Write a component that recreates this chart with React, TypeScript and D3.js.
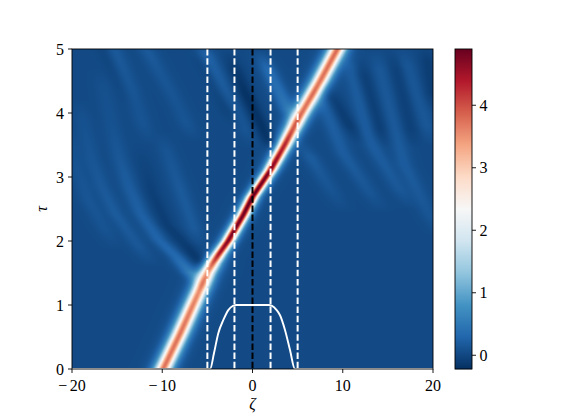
import React, { useMemo } from "react";
import * as d3 from "d3";

const width = 581;
const height = 415;
const margin = { left: 72, right: 433, top: 49, bottom: 369 };
const serif = "'Liberation Serif', 'DejaVu Serif', serif";

const xTicks = [-20, -10, 0, 10, 20];
const yTicks = [0, 1, 2, 3, 4, 5];
const barTicks = [0, 1, 2, 3, 4];
const barDomain = [-0.22, 4.9];
const baseline = 0.03;

// main soliton ridge
const ridgeTau = [0, 0.56, 1, 1.25, 1.5, 1.65, 1.8, 2, 2.17, 2.4, 2.69, 3.11, 3.5, 3.89, 4.5, 5];
const ridgeZeta = [-9.9, -8, -6.6, -5.8, -5, -4.4, -3.7, -2.7, -2, -1.05, 0, 2, 3.55, 5, 7.5, 9.4];
const ridgeAmp = [3.7, 3.7, 3.6, 3.5, 3.5, 3.9, 4.4, 4.7, 4.75, 4.8, 4.9, 4.7, 4.3, 3.7, 3.7, 3.75];
const ridgeWidth = [0.84, 0.84, 0.84, 0.84, 0.84, 0.76, 0.68, 0.63, 0.62, 0.61, 0.6, 0.63, 0.7, 0.82, 0.84, 0.84];

// faint ripples: [zeta, tau, amplitude], bottom to top
const ripplesLeft = [
  [[-6.9, 1.5, 0.45], [-8.4, 1.75, 0.3], [-10.4, 2.02, 0.24], [-12.4, 2.43, 0.2], [-13.7, 2.85, 0.17], [-14.8, 3.32, 0.12], [-15.6, 3.8, 0.07], [-16.5, 4.4, 0.05]],
  [[-5.8, 1.68, -0.2], [-7.5, 1.95, -0.14], [-9.5, 2.25, -0.12], [-11.1, 2.75, -0.1], [-12, 3.2, -0.05]],
  [[-6.5, 2.2, 0.14], [-8, 2.8, 0.14], [-9.5, 3.4, 0.09]],
  [[-12.6, 1.91, 0.12], [-15.2, 2.43, 0.15], [-16.7, 2.85, 0.13], [-17.8, 3.27, 0.1], [-18.8, 3.9, 0.06]],
  [[-16.3, 2.17, 0.08], [-18.2, 2.64, 0.1], [-19.3, 3.06, 0.08], [-20, 3.5, 0.05]],
  [[-12.05, 3.8, 0.08], [-13.5, 4.37, 0.13], [-15.2, 4.95, 0.15]],
  [[-7.45, 3.86, 0.1], [-9.3, 4.37, 0.16], [-11.5, 4.95, 0.22]],
  [[-0.83, 3.75, 0.1], [-3.05, 4.33, 0.2], [-5.07, 4.9, 0.24]],
  [[-2.5, 4.02, -0.12], [-3.97, 4.43, -0.1], [-5.26, 4.74, -0.08]],
  [[-8.5, 4.1, -0.05], [-10.2, 4.6, -0.08], [-11.6, 5, -0.08]],
  [[-13.6, 4.2, -0.04], [-15, 4.6, -0.06], [-16.5, 5, -0.06]],
];
const ripplesMiddle = [
  [[1.7, 3.6, -0.22], [-0.83, 4.32, -0.22], [-1.9, 4.69, -0.15]],
  [[3.9, 4.06, 0.4], [1.7, 4.69, 0.3]],
];
const ripplesRight = [
  [[8.9, 2.75, 0.08], [6.4, 3.31, 0.16]],
  [[13, 2.75, 0.1], [10.06, 3.37, 0.17], [7.9, 4.12, 0.2]],
  [[16.3, 2.8, 0.12], [13.6, 3.42, 0.17], [12.8, 3.65, 0.18], [10.8, 4.74, 0.16]],
  [[19.7, 2.38, 0.1], [16.8, 3.2, 0.16], [15.6, 3.86, 0.14], [14.1, 4.69, 0.12]],
  [[19.3, 3.8, 0.12], [17.1, 4.74, 0.12]],
  [[10.8, 3.8, -0.14], [8.9, 4.22, -0.12]],
  [[14.1, 3.75, -0.12], [12.3, 4.58, -0.12]],
  [[17.5, 3.75, -0.1], [16, 4.69, -0.1]],
  [[19.9, 4.3, -0.12], [19.4, 4.8, -0.12]],
];

// white overlay profile
const profileZeta = [-20, -4.7, -4.27, -3.79, -3.23, -2.68, -2.12, -1.8, 0, 1.8, 2.12, 2.68, 3.05, 3.6, 4.15, 4.7, 20];
const profileTau = [0, 0, 0.245, 0.56, 0.766, 0.92, 0.99, 1, 1, 1, 0.99, 0.92, 0.84, 0.61, 0.3, 0, 0];

const dashLines = [
  { zeta: -5, color: "white" },
  { zeta: -2, color: "white" },
  { zeta: 0, color: "black" },
  { zeta: 2, color: "white" },
  { zeta: 5, color: "white" },
];

const x = d3.scaleLinear().domain([-20, 20]).range([margin.left, margin.right]);
const y = d3.scaleLinear().domain([0, 5]).range([margin.bottom, margin.top]);
const cbar = d3.scaleLinear().domain(barDomain).range([margin.bottom, margin.top]);
const rdbu = d3.piecewise(d3.interpolateRgb, [...d3.schemeRdBu[11]].reverse());
const color = d3.scaleSequential(rdbu).domain(barDomain);

function buildHeatmap() {
  const w = margin.right - margin.left;
  const h = margin.bottom - margin.top;
  const canvas = document.createElement("canvas");
  canvas.width = w;
  canvas.height = h;
  const ctx = canvas.getContext("2d");
  if (!ctx) return "";
  const img = ctx.createImageData(w, h);

  const rz = d3.scaleLinear().domain(ridgeTau).range(ridgeZeta);
  const ra = d3.scaleLinear().domain(ridgeTau).range(ridgeAmp);
  const rw = d3.scaleLinear().domain(ridgeTau).range(ridgeWidth);

  const ripples = [...ripplesLeft, ...ripplesMiddle, ...ripplesRight].map((pts) => {
    const taus = pts.map((p) => p[1]);
    const t0 = taus[0];
    const t1 = taus[taus.length - 1];
    return {
      zeta: d3.scaleLinear().domain(taus).range(pts.map((p) => p[0])),
      amp: d3
        .scaleLinear()
        .domain([t0 - 0.3, ...taus, t1 + 0.3])
        .range([0, ...pts.map((p) => p[2]), 0])
        .clamp(true),
    };
  });

  for (let j = 0; j < h; j++) {
    const tau = y.invert(margin.top + j + 0.5);
    const c = rz(tau);
    const a = ra(tau);
    const s = rw(tau);
    for (let i = 0; i < w; i++) {
      const z = x.invert(margin.left + i + 0.5);
      const ch = Math.cosh((z - c) / s);
      let v = baseline + a / (ch * ch);
      for (const r of ripples) {
        const amp = r.amp(tau);
        if (amp === 0) continue;
        const d = (z - r.zeta(tau)) / 0.68;
        v += amp * Math.exp(-0.5 * d * d);
      }
      const col = d3.rgb(color(v));
      const k = (j * w + i) * 4;
      img.data[k] = col.r;
      img.data[k + 1] = col.g;
      img.data[k + 2] = col.b;
      img.data[k + 3] = 255;
    }
  }
  ctx.putImageData(img, 0, 0);
  return canvas.toDataURL();
}

export default function App() {
  const href = useMemo(buildHeatmap, []);
  const profile = d3
    .line<number>()
    .x((d) => x(d))
    .y((_, i) => y(profileTau[i]))
    .curve(d3.curveMonotoneX)(profileZeta);
  const barX = 455;
  const barW = 17;
  const barSteps = d3.range(0, margin.bottom - margin.top);

  return (
    <svg
      width={width}
      height={height}
      style={{ position: "absolute", left: 0, top: 0, display: "block", background: "white" }}
      fontFamily={serif}
      fontSize={16}
      fill="#000"
    >
      <defs>
        <clipPath id="plot">
          <rect x={margin.left} y={margin.top} width={margin.right - margin.left} height={margin.bottom - margin.top} />
        </clipPath>
      </defs>

      <image href={href} x={margin.left} y={margin.top} width={margin.right - margin.left} height={margin.bottom - margin.top} />

      <g clipPath="url(#plot)" fill="none">
        {dashLines.map((d) => (
          <line
            key={d.zeta}
            x1={x(d.zeta)}
            x2={x(d.zeta)}
            y1={y(5)}
            y2={y(0)}
            stroke={d.color}
            strokeWidth={2}
            strokeDasharray="6.5 2.7"
          />
        ))}
        <path d={profile ?? ""} stroke="white" strokeWidth={1.9} />
      </g>

      <rect
        x={margin.left}
        y={margin.top}
        width={margin.right - margin.left}
        height={margin.bottom - margin.top}
        fill="none"
        stroke="black"
        strokeWidth={0.9}
      />

      {xTicks.map((t) => (
        <g key={t} transform={`translate(${x(t)},${margin.bottom})`}>
          <line y2={4} stroke="black" strokeWidth={0.9} />
          <text y={21.5} textAnchor="middle">
            {t < 0 ? (
              <>
                {"\u2212"}
                <tspan dx={2.5}>{-t}</tspan>
              </>
            ) : (
              t
            )}
          </text>
        </g>
      ))}
      {yTicks.map((t) => (
        <g key={t} transform={`translate(${margin.left},${y(t)})`}>
          <line x2={-4} stroke="black" strokeWidth={0.9} />
          <text x={-8} y={5.5} textAnchor="end">
            {t}
          </text>
        </g>
      ))}
      <text x={x(0)} y={409} textAnchor="middle" fontStyle="italic" fontSize={16}>
        ζ
      </text>
      <text transform={`translate(47,209) rotate(-90)`} textAnchor="middle" fontStyle="italic" fontSize={16}>
        τ
      </text>

      {barSteps.map((i) => (
        <rect
          key={i}
          x={barX}
          y={margin.top + i}
          width={barW}
          height={1.2}
          fill={color(cbar.invert(margin.top + i + 0.5))}
        />
      ))}
      <rect x={barX} y={margin.top} width={barW} height={margin.bottom - margin.top} fill="none" stroke="black" strokeWidth={0.9} />
      {barTicks.map((t) => (
        <g key={t} transform={`translate(${barX + barW},${cbar(t)})`}>
          <line x2={4} stroke="black" strokeWidth={0.9} />
          <text x={7.5} y={5.5}>
            {t}
          </text>
        </g>
      ))}
    </svg>
  );
}
